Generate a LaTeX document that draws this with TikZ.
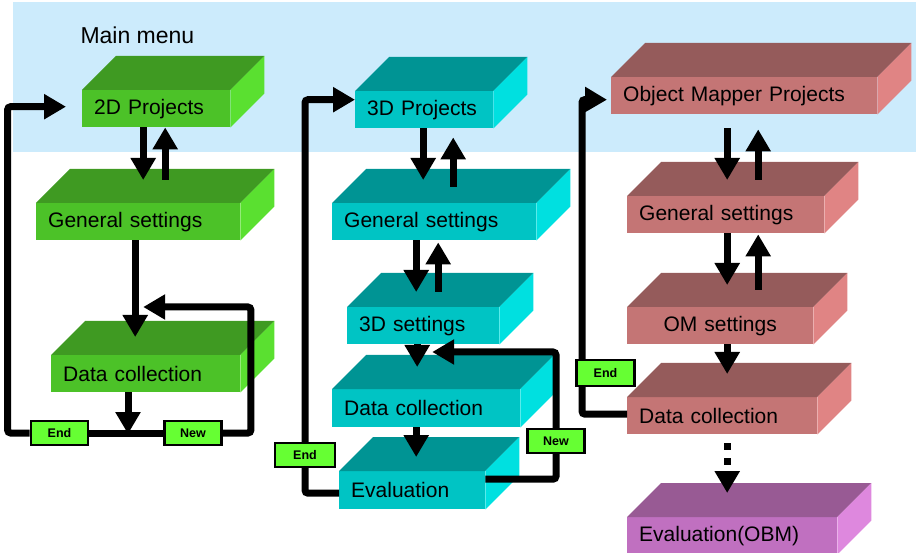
\documentclass[tikz,border=0pt]{standalone}
\usepackage{fontspec}
\setmainfont{Liberation Sans}
\usetikzlibrary{arrows.meta}

\definecolor{menublue}{HTML}{CCEBFC}
\definecolor{gtop}{HTML}{3F9A22}
\definecolor{gfront}{HTML}{4CC228}
\definecolor{gside}{HTML}{5AE030}
\definecolor{ttop}{HTML}{009494}
\definecolor{tfront}{HTML}{00C4C4}
\definecolor{tside}{HTML}{00E0E0}
\definecolor{rtop}{HTML}{955B5B}
\definecolor{rfront}{HTML}{C47575}
\definecolor{rside}{HTML}{E08484}
\definecolor{ptop}{HTML}{985A94}
\definecolor{pfront}{HTML}{C070C0}
\definecolor{pside}{HTML}{DE88DE}
\definecolor{tagg}{HTML}{66FF33}

\tikzset{
  slab/.style={anchor=north west, inner xsep=12pt, inner ysep=0pt,
    minimum height=37pt, align=left, font=\fontsize{21}{24}\selectfont},
  arr/.style={line width=7pt, -{Triangle[length=22pt,width=24pt]}, rounded corners=3pt},
  line/.style={line width=7pt},
  tag/.style={draw=black, line width=2.8pt, fill=tagg, inner sep=0pt,
    minimum width=57pt, minimum height=24pt, font=\bfseries\fontsize{12.5}{14}\selectfont}
}

% top and side face of a slab
\newcommand{\faces}[3]{%
  \fill[#2] (#1.north west) -- ++(34pt,34pt) -- ([xshift=34pt,yshift=34pt]#1.north east) -- (#1.north east) -- cycle;
  \fill[#3] (#1.north east) -- ++(34pt,34pt) -- ([xshift=34pt,yshift=34pt]#1.south east) -- (#1.south east) -- cycle;
}

\begin{document}
\begin{tikzpicture}[x=1pt,y=-1pt]
\useasboundingbox (0,0) rectangle (916,553);
\fill[menublue] (13,2) rectangle (916,152);
\node[anchor=west, font=\fontsize{23}{26}\selectfont] (menu) at (77,35) {Main menu};

% 2D
\node[slab, fill=gfront, text width=124pt] (p2d) at (82,90) {2D Projects};
\faces{p2d}{gtop}{gside}
\node[slab, fill=gfront, text width=180pt] (gs2d) at (36,203) {General settings};
\faces{gs2d}{gtop}{gside}
\node[slab, fill=gfront, text width=165pt] (dc2d) at (51,355) {Data collection};
\faces{dc2d}{gtop}{gside}

% 3D
\node[slab, fill=tfront, text width=114pt] (p3d) at (355,91) {3D Projects};
\faces{p3d}{ttop}{tside}
\node[slab, fill=tfront, text width=180pt] (gs3d) at (332,203) {General settings};
\faces{gs3d}{ttop}{tside}
\node[slab, fill=tfront, text width=128pt] (s3d) at (347,307) {3D settings};
\faces{s3d}{ttop}{tside}
\node[slab, fill=tfront, text width=164pt, minimum height=38pt] (dc3d) at (332,389) {Data collection};
\faces{dc3d}{ttop}{tside}
\node[slab, fill=tfront, text width=122pt, minimum height=38pt] (ev3d) at (339,471) {Evaluation};
\faces{ev3d}{ttop}{tside}

% Object Mapper
\node[slab, fill=rfront, text width=242pt] (pom) at (611,77) {Object Mapper Projects};
\faces{pom}{rtop}{rside}
\node[slab, fill=rfront, text width=173pt] (gsom) at (627,196) {General settings};
\faces{gsom}{rtop}{rside}
\node[slab, fill=rfront, text width=162pt, align=center] (som) at (627,307) {OM settings};
\faces{som}{rtop}{rside}
\node[slab, fill=rfront, text width=166pt] (dcom) at (627,397) {Data collection};
\faces{dcom}{rtop}{rside}
\node[slab, fill=pfront, text width=186pt] (evom) at (627,517) {Evaluation(OBM)};
\faces{evom}{ptop}{pside}

% arrows 2D
\coordinate (j2d) at (128,434);
\draw[arr] ([xshift=-13pt]p2d.south) -- ([xshift=5pt,yshift=23pt]gs2d.north);
\draw[arr] ([xshift=27pt,yshift=23pt]gs2d.north) -- ([xshift=9pt]p2d.south);
\draw[arr] ([xshift=-3pt]gs2d.south) -- ([xshift=-10.5pt,yshift=18pt]dc2d.north);
\draw[arr] (dc2d.south -| j2d) -- (j2d);
\node[tag] (eb2d) at (59.5,433) {End};
\node[tag] (nb2d) at (193,433) {New};
\draw[line] (eb2d.east) -- (nb2d.west);
\draw[arr] (nb2d.east) -- ++(28,0) |- ([xshift=-2.5pt,yshift=48pt]dc2d.north);
\draw[arr] (eb2d.west) -- ++(-22,0) |- ([xshift=-16pt,yshift=2pt]p2d.west);
\node[tag] at (eb2d) {End};
\node[tag] at (nb2d) {New};

% arrows 3D
\draw[arr] ([xshift=-1pt]p3d.south) -- ([xshift=-11pt,yshift=23pt]gs3d.north);
\draw[arr] ([xshift=19pt,yshift=16pt]gs3d.north) -- ([xshift=29pt,yshift=-9pt]p3d.south);
\draw[arr] ([xshift=-18pt]gs3d.south) -- ([xshift=-7pt,yshift=15pt]s3d.north);
\draw[arr] ([xshift=15pt,yshift=15pt]s3d.north) -- ([xshift=4pt,yshift=-2pt]gs3d.south);
\draw[arr] ([xshift=-6pt]s3d.south) -- ([xshift=-9pt,yshift=22pt]dc3d.north);
\draw[arr] ([xshift=-10pt]dc3d.south) -- ([xshift=4pt,yshift=14pt]ev3d.north);
\coordinate (n3d) at (556,441);
\coordinate (e3d) at (305,455);
\draw[arr] ([yshift=11pt]ev3d.east) -| (n3d) |- ([xshift=6pt,yshift=37pt]dc3d.north);
\draw[arr] ([yshift=-3pt]ev3d.west) -| (e3d) |- ([yshift=10pt]p3d.west);
\node[tag] (nb3d) at (n3d) {New};
\node[tag, minimum width=60pt] (eb3d) at (e3d) {End};

% arrows OM
\draw[arr] ([xshift=-17pt,yshift=-14pt]pom.south) -- ([xshift=1.5pt,yshift=16pt]gsom.north);
\draw[arr] ([xshift=32.5pt,yshift=16pt]gsom.north) -- ([xshift=14pt,yshift=-15pt]pom.south);
\draw[arr] ([xshift=1.5pt]gsom.south) -- ([xshift=7pt,yshift=22pt]som.north);
\draw[arr] ([xshift=38pt,yshift=17pt]som.north) -- ([xshift=32.5pt,yshift=-1pt]gsom.south);
\draw[arr] ([xshift=7pt]som.south) -- ([xshift=5pt,yshift=23pt]dcom.north);
\draw[arr, dash pattern=on 7pt off 8pt] ([xshift=5pt,yshift=-9pt]dcom.south) -- ([xshift=-5pt,yshift=24pt]evom.north);
\coordinate (omc) at (582,99.5);
\draw[arr] ([yshift=1.5pt]dcom.west) -| (omc) -- ([xshift=-4pt,yshift=-4pt]pom.west);
\node[tag, minimum width=58pt, minimum height=26pt] (ebom) at (605.5,373) {End};
\end{tikzpicture}
\end{document}
